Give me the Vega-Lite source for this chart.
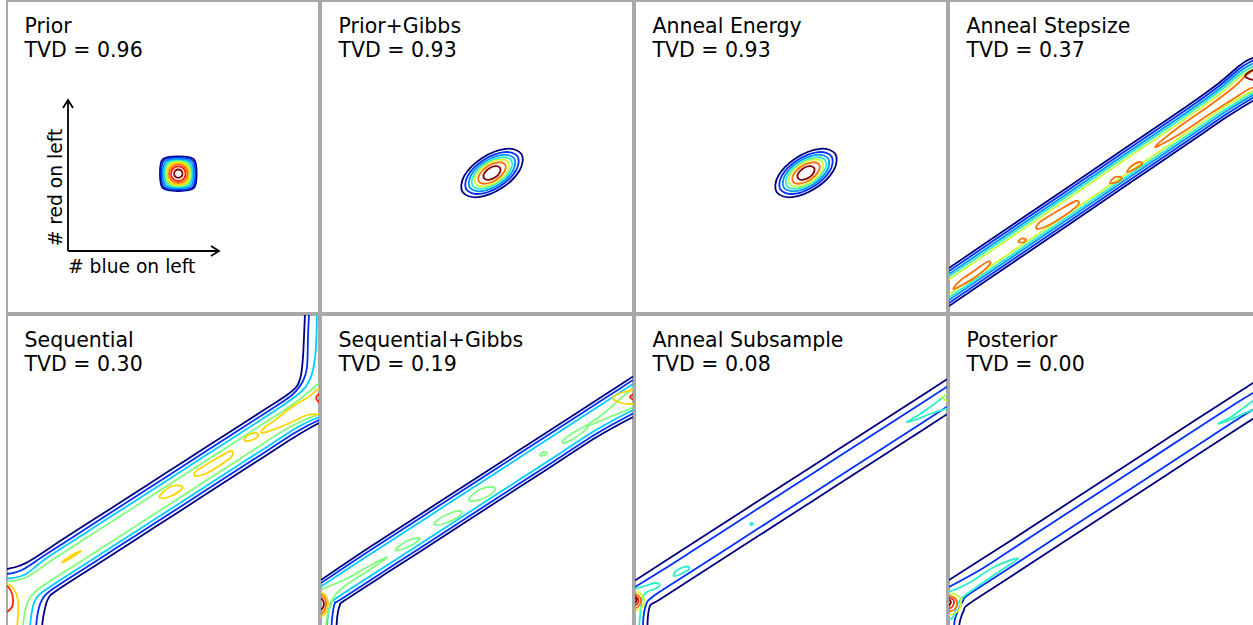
{
"$schema": "https://vega.github.io/schema/vega-lite/v6.json",
"padding": {"left": 6, "top": 0, "right": 0, "bottom": 0},
"background": "white",
"config": {"view": {"stroke": "#a8a8a8", "strokeWidth": 2}, "font": "DejaVu Sans"},
"data": {"values": [
{"p":0,"r":0,"t":"Prior","x":17.5,"y":280.5},{"p":0,"r":0,"t":"TVD = 0.96","x":17.5,"y":256},
{"p":1,"r":0,"t":"Prior+Gibbs","x":17.5,"y":280.5},{"p":1,"r":0,"t":"TVD = 0.93","x":17.5,"y":256},
{"p":2,"r":0,"t":"Anneal Energy","x":17.5,"y":280.5},{"p":2,"r":0,"t":"TVD = 0.93","x":17.5,"y":256},
{"p":3,"r":0,"t":"Anneal Stepsize","x":17.5,"y":280.5},{"p":3,"r":0,"t":"TVD = 0.37","x":17.5,"y":256},
{"p":4,"r":0,"t":"Sequential","x":17.5,"y":280.5},{"p":4,"r":0,"t":"TVD = 0.30","x":17.5,"y":256},
{"p":5,"r":0,"t":"Sequential+Gibbs","x":17.5,"y":280.5},{"p":5,"r":0,"t":"TVD = 0.19","x":17.5,"y":256},
{"p":6,"r":0,"t":"Anneal Subsample","x":17.5,"y":280.5},{"p":6,"r":0,"t":"TVD = 0.08","x":17.5,"y":256},
{"p":7,"r":0,"t":"Posterior","x":17.5,"y":280.5},{"p":7,"r":0,"t":"TVD = 0.00","x":17.5,"y":256},
{"p":0,"r":1,"t":"# blue on left","x":124.7,"y":40},
{"p":0,"r":2,"t":"# red on left","x":54.7,"y":125.5},

{"p":0,"c":50,"l":11,"x":61,"y":62},{"p":0,"c":50,"l":11,"x":61,"y":213},
{"p":0,"c":51,"l":11,"x":61,"y":62},{"p":0,"c":51,"l":11,"x":212,"y":62},
{"p":0,"c":52,"l":11,"x":56,"y":205},{"p":0,"c":52,"l":11,"x":61,"y":213},{"p":0,"c":52,"l":11,"x":66,"y":205},
{"p":0,"c":53,"l":11,"x":204,"y":67},{"p":0,"c":53,"l":11,"x":212,"y":62},{"p":0,"c":53,"l":11,"x":204,"y":57},

{"p":0,"c":100,"l":0,"x":189.6,"y":139.3},{"p":0,"c":100,"l":0,"x":186.7,"y":153.8},{"p":0,"c":100,"l":0,"x":171.3,"y":156.6},{"p":0,"c":100,"l":0,"x":155.9,"y":153.8},{"p":0,"c":100,"l":0,"x":153,"y":139.3},{"p":0,"c":100,"l":0,"x":155.9,"y":124.8},{"p":0,"c":100,"l":0,"x":171.3,"y":122},{"p":0,"c":100,"l":0,"x":186.7,"y":124.8},
{"p":0,"c":101,"l":1,"x":188.3,"y":139.3},{"p":0,"c":101,"l":1,"x":185.6,"y":152.7},{"p":0,"c":101,"l":1,"x":171.3,"y":155.3},{"p":0,"c":101,"l":1,"x":157,"y":152.7},{"p":0,"c":101,"l":1,"x":154.3,"y":139.3},{"p":0,"c":101,"l":1,"x":157,"y":125.9},{"p":0,"c":101,"l":1,"x":171.3,"y":123.3},{"p":0,"c":101,"l":1,"x":185.6,"y":125.9},
{"p":0,"c":102,"l":2,"x":186.8,"y":139.3},{"p":0,"c":102,"l":2,"x":184,"y":151.4},{"p":0,"c":102,"l":2,"x":171.3,"y":154},{"p":0,"c":102,"l":2,"x":158.6,"y":151.4},{"p":0,"c":102,"l":2,"x":155.8,"y":139.3},{"p":0,"c":102,"l":2,"x":158.6,"y":127.2},{"p":0,"c":102,"l":2,"x":171.3,"y":124.6},{"p":0,"c":102,"l":2,"x":184,"y":127.2},
{"p":0,"c":103,"l":3,"x":185.3,"y":139.3},{"p":0,"c":103,"l":3,"x":182.5,"y":149.9},{"p":0,"c":103,"l":3,"x":171.3,"y":152.6},{"p":0,"c":103,"l":3,"x":160.1,"y":149.9},{"p":0,"c":103,"l":3,"x":157.3,"y":139.3},{"p":0,"c":103,"l":3,"x":160.1,"y":128.7},{"p":0,"c":103,"l":3,"x":171.3,"y":126},{"p":0,"c":103,"l":3,"x":182.5,"y":128.7},
{"p":0,"c":109,"l":4,"x":184.4,"y":139.3},{"p":0,"c":109,"l":4,"x":181.6,"y":149.4},{"p":0,"c":109,"l":4,"x":171.3,"y":152.1},{"p":0,"c":109,"l":4,"x":161,"y":149.4},{"p":0,"c":109,"l":4,"x":158.2,"y":139.3},{"p":0,"c":109,"l":4,"x":161,"y":129.2},{"p":0,"c":109,"l":4,"x":171.3,"y":126.5},{"p":0,"c":109,"l":4,"x":181.6,"y":129.2},
{"p":0,"c":104,"l":5,"x":183.6,"y":139.3},{"p":0,"c":104,"l":5,"x":180.9,"y":148.9},{"p":0,"c":104,"l":5,"x":171.3,"y":151.6},{"p":0,"c":104,"l":5,"x":161.7,"y":148.9},{"p":0,"c":104,"l":5,"x":159,"y":139.3},{"p":0,"c":104,"l":5,"x":161.7,"y":129.7},{"p":0,"c":104,"l":5,"x":171.3,"y":127},{"p":0,"c":104,"l":5,"x":180.9,"y":129.7},
{"p":0,"c":110,"l":6,"x":182.9,"y":139.3},{"p":0,"c":110,"l":6,"x":180.2,"y":148.2},{"p":0,"c":110,"l":6,"x":171.3,"y":150.9},{"p":0,"c":110,"l":6,"x":162.4,"y":148.2},{"p":0,"c":110,"l":6,"x":159.7,"y":139.3},{"p":0,"c":110,"l":6,"x":162.4,"y":130.4},{"p":0,"c":110,"l":6,"x":171.3,"y":127.7},{"p":0,"c":110,"l":6,"x":180.2,"y":130.4},
{"p":0,"c":105,"l":7,"x":182.1,"y":139.3},{"p":0,"c":105,"l":7,"x":179.4,"y":147.4},{"p":0,"c":105,"l":7,"x":171.3,"y":150.1},{"p":0,"c":105,"l":7,"x":163.2,"y":147.4},{"p":0,"c":105,"l":7,"x":160.5,"y":139.3},{"p":0,"c":105,"l":7,"x":163.2,"y":131.2},{"p":0,"c":105,"l":7,"x":171.3,"y":128.5},{"p":0,"c":105,"l":7,"x":179.4,"y":131.2},
{"p":0,"c":106,"l":8,"x":180.6,"y":139.3},{"p":0,"c":106,"l":8,"x":178,"y":146},{"p":0,"c":106,"l":8,"x":171.3,"y":148.6},{"p":0,"c":106,"l":8,"x":164.6,"y":146},{"p":0,"c":106,"l":8,"x":162,"y":139.3},{"p":0,"c":106,"l":8,"x":164.6,"y":132.6},{"p":0,"c":106,"l":8,"x":171.3,"y":130},{"p":0,"c":106,"l":8,"x":178,"y":132.6},
{"p":0,"c":107,"l":9,"x":178.6,"y":139.3},{"p":0,"c":107,"l":9,"x":176.5,"y":144.5},{"p":0,"c":107,"l":9,"x":171.3,"y":146.6},{"p":0,"c":107,"l":9,"x":166.1,"y":144.5},{"p":0,"c":107,"l":9,"x":164,"y":139.3},{"p":0,"c":107,"l":9,"x":166.1,"y":134.1},{"p":0,"c":107,"l":9,"x":171.3,"y":132},{"p":0,"c":107,"l":9,"x":176.5,"y":134.1},
{"p":0,"c":108,"l":10,"x":175.5,"y":139.3},{"p":0,"c":108,"l":10,"x":174.3,"y":142.3},{"p":0,"c":108,"l":10,"x":171.3,"y":143.5},{"p":0,"c":108,"l":10,"x":168.3,"y":142.3},{"p":0,"c":108,"l":10,"x":167.1,"y":139.3},{"p":0,"c":108,"l":10,"x":168.3,"y":136.3},{"p":0,"c":108,"l":10,"x":171.3,"y":135.1},{"p":0,"c":108,"l":10,"x":174.3,"y":136.3},

{"p":1,"c":100,"l":0,"x":200.4,"y":159.1},{"p":1,"c":100,"l":0,"x":184.9,"y":164.2},{"p":1,"c":100,"l":0,"x":161.2,"y":155.1},{"p":1,"c":100,"l":0,"x":143.3,"y":137.2},{"p":1,"c":100,"l":0,"x":141.6,"y":120.9},{"p":1,"c":100,"l":0,"x":157.1,"y":115.8},{"p":1,"c":100,"l":0,"x":180.8,"y":124.9},{"p":1,"c":100,"l":0,"x":198.7,"y":142.8},
{"p":1,"c":101,"l":1,"x":196.6,"y":156.6},{"p":1,"c":101,"l":1,"x":183.2,"y":160.9},{"p":1,"c":101,"l":1,"x":162.6,"y":153},{"p":1,"c":101,"l":1,"x":147,"y":137.5},{"p":1,"c":101,"l":1,"x":145.4,"y":123.4},{"p":1,"c":101,"l":1,"x":158.8,"y":119.1},{"p":1,"c":101,"l":1,"x":179.4,"y":127},{"p":1,"c":101,"l":1,"x":195,"y":142.5},
{"p":1,"c":102,"l":2,"x":193.2,"y":154.4},{"p":1,"c":102,"l":2,"x":181.5,"y":158.2},{"p":1,"c":102,"l":2,"x":163.6,"y":151.3},{"p":1,"c":102,"l":2,"x":150.1,"y":137.8},{"p":1,"c":102,"l":2,"x":148.8,"y":125.6},{"p":1,"c":102,"l":2,"x":160.5,"y":121.8},{"p":1,"c":102,"l":2,"x":178.4,"y":128.7},{"p":1,"c":102,"l":2,"x":191.9,"y":142.2},
{"p":1,"c":103,"l":4,"x":190.3,"y":152.5},{"p":1,"c":103,"l":4,"x":180.2,"y":155.6},{"p":1,"c":103,"l":4,"x":164.7,"y":149.6},{"p":1,"c":103,"l":4,"x":152.9,"y":137.9},{"p":1,"c":103,"l":4,"x":151.7,"y":127.5},{"p":1,"c":103,"l":4,"x":161.8,"y":124.4},{"p":1,"c":103,"l":4,"x":177.3,"y":130.4},{"p":1,"c":103,"l":4,"x":189.1,"y":142.1},
{"p":1,"c":104,"l":6,"x":187.4,"y":150.6},{"p":1,"c":104,"l":6,"x":178.7,"y":153.4},{"p":1,"c":104,"l":6,"x":165.5,"y":148.4},{"p":1,"c":104,"l":6,"x":155.5,"y":138.4},{"p":1,"c":104,"l":6,"x":154.6,"y":129.4},{"p":1,"c":104,"l":6,"x":163.3,"y":126.6},{"p":1,"c":104,"l":6,"x":176.5,"y":131.6},{"p":1,"c":104,"l":6,"x":186.5,"y":141.6},
{"p":1,"c":105,"l":8,"x":184,"y":148.4},{"p":1,"c":105,"l":8,"x":177.1,"y":150.7},{"p":1,"c":105,"l":8,"x":166.6,"y":146.7},{"p":1,"c":105,"l":8,"x":158.7,"y":138.8},{"p":1,"c":105,"l":8,"x":158,"y":131.6},{"p":1,"c":105,"l":8,"x":164.9,"y":129.3},{"p":1,"c":105,"l":8,"x":175.4,"y":133.3},{"p":1,"c":105,"l":8,"x":183.3,"y":141.2},
{"p":1,"c":106,"l":10,"x":179,"y":145.2},{"p":1,"c":106,"l":10,"x":174.5,"y":146.9},{"p":1,"c":106,"l":10,"x":168,"y":144.6},{"p":1,"c":106,"l":10,"x":163.2,"y":139.6},{"p":1,"c":106,"l":10,"x":163,"y":134.8},{"p":1,"c":106,"l":10,"x":167.5,"y":133.1},{"p":1,"c":106,"l":10,"x":174,"y":135.4},{"p":1,"c":106,"l":10,"x":178.8,"y":140.4},

{"p":2,"c":100,"l":0,"x":200.4,"y":159.1},{"p":2,"c":100,"l":0,"x":184.9,"y":164.2},{"p":2,"c":100,"l":0,"x":161.2,"y":155.1},{"p":2,"c":100,"l":0,"x":143.3,"y":137.2},{"p":2,"c":100,"l":0,"x":141.6,"y":120.9},{"p":2,"c":100,"l":0,"x":157.1,"y":115.8},{"p":2,"c":100,"l":0,"x":180.8,"y":124.9},{"p":2,"c":100,"l":0,"x":198.7,"y":142.8},
{"p":2,"c":101,"l":1,"x":196.6,"y":156.6},{"p":2,"c":101,"l":1,"x":183.2,"y":160.9},{"p":2,"c":101,"l":1,"x":162.6,"y":153},{"p":2,"c":101,"l":1,"x":147,"y":137.5},{"p":2,"c":101,"l":1,"x":145.4,"y":123.4},{"p":2,"c":101,"l":1,"x":158.8,"y":119.1},{"p":2,"c":101,"l":1,"x":179.4,"y":127},{"p":2,"c":101,"l":1,"x":195,"y":142.5},
{"p":2,"c":102,"l":2,"x":193.2,"y":154.4},{"p":2,"c":102,"l":2,"x":181.5,"y":158.2},{"p":2,"c":102,"l":2,"x":163.6,"y":151.3},{"p":2,"c":102,"l":2,"x":150.1,"y":137.8},{"p":2,"c":102,"l":2,"x":148.8,"y":125.6},{"p":2,"c":102,"l":2,"x":160.5,"y":121.8},{"p":2,"c":102,"l":2,"x":178.4,"y":128.7},{"p":2,"c":102,"l":2,"x":191.9,"y":142.2},
{"p":2,"c":103,"l":4,"x":190.3,"y":152.5},{"p":2,"c":103,"l":4,"x":180.2,"y":155.6},{"p":2,"c":103,"l":4,"x":164.7,"y":149.6},{"p":2,"c":103,"l":4,"x":152.9,"y":137.9},{"p":2,"c":103,"l":4,"x":151.7,"y":127.5},{"p":2,"c":103,"l":4,"x":161.8,"y":124.4},{"p":2,"c":103,"l":4,"x":177.3,"y":130.4},{"p":2,"c":103,"l":4,"x":189.1,"y":142.1},
{"p":2,"c":104,"l":6,"x":187.4,"y":150.6},{"p":2,"c":104,"l":6,"x":178.7,"y":153.4},{"p":2,"c":104,"l":6,"x":165.5,"y":148.4},{"p":2,"c":104,"l":6,"x":155.5,"y":138.4},{"p":2,"c":104,"l":6,"x":154.6,"y":129.4},{"p":2,"c":104,"l":6,"x":163.3,"y":126.6},{"p":2,"c":104,"l":6,"x":176.5,"y":131.6},{"p":2,"c":104,"l":6,"x":186.5,"y":141.6},
{"p":2,"c":105,"l":8,"x":184,"y":148.4},{"p":2,"c":105,"l":8,"x":177.1,"y":150.7},{"p":2,"c":105,"l":8,"x":166.6,"y":146.7},{"p":2,"c":105,"l":8,"x":158.7,"y":138.8},{"p":2,"c":105,"l":8,"x":158,"y":131.6},{"p":2,"c":105,"l":8,"x":164.9,"y":129.3},{"p":2,"c":105,"l":8,"x":175.4,"y":133.3},{"p":2,"c":105,"l":8,"x":183.3,"y":141.2},
{"p":2,"c":106,"l":10,"x":179,"y":145.2},{"p":2,"c":106,"l":10,"x":174.5,"y":146.9},{"p":2,"c":106,"l":10,"x":168,"y":144.6},{"p":2,"c":106,"l":10,"x":163.2,"y":139.6},{"p":2,"c":106,"l":10,"x":163,"y":134.8},{"p":2,"c":106,"l":10,"x":167.5,"y":133.1},{"p":2,"c":106,"l":10,"x":174,"y":135.4},{"p":2,"c":106,"l":10,"x":178.8,"y":140.4},

{"p":3,"c":0,"l":0,"x":0,"y":45},{"p":3,"c":0,"l":0,"x":60,"y":85.8},{"p":3,"c":0,"l":0,"x":120,"y":126.6},{"p":3,"c":0,"l":0,"x":180,"y":167.4},{"p":3,"c":0,"l":0,"x":240,"y":208.2},{"p":3,"c":0,"l":0,"x":270,"y":230},{"p":3,"c":0,"l":0,"x":290,"y":247},{"p":3,"c":0,"l":0,"x":300,"y":253.5},{"p":3,"c":0,"l":0,"x":312,"y":257},
{"p":3,"c":1,"l":1,"x":0,"y":42},{"p":3,"c":1,"l":1,"x":60,"y":82.8},{"p":3,"c":1,"l":1,"x":120,"y":123.6},{"p":3,"c":1,"l":1,"x":180,"y":164.4},{"p":3,"c":1,"l":1,"x":240,"y":205.2},{"p":3,"c":1,"l":1,"x":270,"y":227},{"p":3,"c":1,"l":1,"x":290,"y":244},{"p":3,"c":1,"l":1,"x":300,"y":250.5},{"p":3,"c":1,"l":1,"x":312,"y":255},
{"p":3,"c":2,"l":2,"x":0,"y":39},{"p":3,"c":2,"l":2,"x":60,"y":79.8},{"p":3,"c":2,"l":2,"x":120,"y":120.6},{"p":3,"c":2,"l":2,"x":180,"y":161.4},{"p":3,"c":2,"l":2,"x":240,"y":202.2},{"p":3,"c":2,"l":2,"x":270,"y":224},{"p":3,"c":2,"l":2,"x":290,"y":241},{"p":3,"c":2,"l":2,"x":300,"y":247.5},{"p":3,"c":2,"l":2,"x":312,"y":252.5},
{"p":3,"c":3,"l":4,"x":0,"y":36.5},{"p":3,"c":3,"l":4,"x":60,"y":77.3},{"p":3,"c":3,"l":4,"x":120,"y":118.1},{"p":3,"c":3,"l":4,"x":180,"y":158.9},{"p":3,"c":3,"l":4,"x":240,"y":199.7},{"p":3,"c":3,"l":4,"x":270,"y":221.5},{"p":3,"c":3,"l":4,"x":290,"y":238},{"p":3,"c":3,"l":4,"x":300,"y":244.5},{"p":3,"c":3,"l":4,"x":312,"y":250},
{"p":3,"c":4,"l":6,"x":0,"y":33.5},{"p":3,"c":4,"l":6,"x":60,"y":74.3},{"p":3,"c":4,"l":6,"x":120,"y":115.1},{"p":3,"c":4,"l":6,"x":180,"y":155.9},{"p":3,"c":4,"l":6,"x":240,"y":196.7},{"p":3,"c":4,"l":6,"x":270,"y":218.5},{"p":3,"c":4,"l":6,"x":290,"y":235},{"p":3,"c":4,"l":6,"x":300,"y":242},{"p":3,"c":4,"l":6,"x":312,"y":247.5},
{"p":3,"c":5,"l":0,"x":0,"y":7},{"p":3,"c":5,"l":0,"x":60,"y":47.8},{"p":3,"c":5,"l":0,"x":120,"y":88.6},{"p":3,"c":5,"l":0,"x":180,"y":129.4},{"p":3,"c":5,"l":0,"x":240,"y":170.2},{"p":3,"c":5,"l":0,"x":280,"y":197.4},{"p":3,"c":5,"l":0,"x":312,"y":217},
{"p":3,"c":6,"l":1,"x":0,"y":10},{"p":3,"c":6,"l":1,"x":60,"y":50.8},{"p":3,"c":6,"l":1,"x":120,"y":91.6},{"p":3,"c":6,"l":1,"x":180,"y":132.4},{"p":3,"c":6,"l":1,"x":240,"y":173.2},{"p":3,"c":6,"l":1,"x":280,"y":200.4},{"p":3,"c":6,"l":1,"x":312,"y":220},
{"p":3,"c":7,"l":2,"x":0,"y":13},{"p":3,"c":7,"l":2,"x":60,"y":53.8},{"p":3,"c":7,"l":2,"x":120,"y":94.6},{"p":3,"c":7,"l":2,"x":180,"y":135.4},{"p":3,"c":7,"l":2,"x":240,"y":176.2},{"p":3,"c":7,"l":2,"x":280,"y":203.4},{"p":3,"c":7,"l":2,"x":312,"y":222.5},
{"p":3,"c":8,"l":4,"x":0,"y":15.5},{"p":3,"c":8,"l":4,"x":60,"y":56.3},{"p":3,"c":8,"l":4,"x":120,"y":97.1},{"p":3,"c":8,"l":4,"x":180,"y":137.9},{"p":3,"c":8,"l":4,"x":240,"y":178.7},{"p":3,"c":8,"l":4,"x":280,"y":205.9},{"p":3,"c":8,"l":4,"x":312,"y":224.5},
{"p":3,"c":9,"l":6,"x":0,"y":18.5},{"p":3,"c":9,"l":6,"x":60,"y":59.3},{"p":3,"c":9,"l":6,"x":120,"y":100.1},{"p":3,"c":9,"l":6,"x":180,"y":140.9},{"p":3,"c":9,"l":6,"x":240,"y":181.7},{"p":3,"c":9,"l":6,"x":280,"y":208.9},{"p":3,"c":9,"l":6,"x":312,"y":226.5},
{"p":3,"c":100,"l":8,"x":5,"y":24},{"p":3,"c":100,"l":8,"x":15,"y":29},{"p":3,"c":100,"l":8,"x":28,"y":37},{"p":3,"c":100,"l":8,"x":41,"y":49},{"p":3,"c":100,"l":8,"x":38,"y":51},{"p":3,"c":100,"l":8,"x":25,"y":42},{"p":3,"c":100,"l":8,"x":12,"y":33},{"p":3,"c":100,"l":8,"x":6,"y":27},
{"p":3,"c":101,"l":8,"x":69.5,"y":71},{"p":3,"c":101,"l":8,"x":74,"y":70.5},{"p":3,"c":101,"l":8,"x":77,"y":73.5},{"p":3,"c":101,"l":8,"x":72.5,"y":74.5},
{"p":3,"c":102,"l":8,"x":88,"y":84},{"p":3,"c":102,"l":8,"x":100,"y":88},{"p":3,"c":102,"l":8,"x":115,"y":97},{"p":3,"c":102,"l":8,"x":129,"y":108},{"p":3,"c":102,"l":8,"x":127,"y":112},{"p":3,"c":102,"l":8,"x":112,"y":104},{"p":3,"c":102,"l":8,"x":97,"y":95},{"p":3,"c":102,"l":8,"x":89,"y":89},
{"p":3,"c":103,"l":8,"x":161,"y":130},{"p":3,"c":103,"l":8,"x":168,"y":131},{"p":3,"c":103,"l":8,"x":173,"y":135},{"p":3,"c":103,"l":8,"x":166,"y":136},
{"p":3,"c":104,"l":8,"x":178,"y":141},{"p":3,"c":104,"l":8,"x":185,"y":143.5},{"p":3,"c":104,"l":8,"x":193,"y":149},{"p":3,"c":104,"l":8,"x":190,"y":151},{"p":3,"c":104,"l":8,"x":182,"y":146.5},
{"p":3,"c":105,"l":8,"x":206,"y":166},{"p":3,"c":105,"l":8,"x":230,"y":178.5},{"p":3,"c":105,"l":8,"x":260,"y":198.5},{"p":3,"c":105,"l":8,"x":285,"y":214.5},{"p":3,"c":105,"l":8,"x":300,"y":224},{"p":3,"c":105,"l":8,"x":314,"y":229},{"p":3,"c":105,"l":8,"x":314,"y":245},{"p":3,"c":105,"l":8,"x":300,"y":240},{"p":3,"c":105,"l":8,"x":285,"y":226},{"p":3,"c":105,"l":8,"x":260,"y":207},{"p":3,"c":105,"l":8,"x":230,"y":186},
{"p":3,"c":106,"l":10,"x":296,"y":237},{"p":3,"c":106,"l":10,"x":304,"y":243},{"p":3,"c":106,"l":10,"x":314,"y":244},{"p":3,"c":106,"l":10,"x":314,"y":232},{"p":3,"c":106,"l":10,"x":304,"y":233},

{"p":4,"c":0,"l":0,"x":0,"y":58},{"p":4,"c":0,"l":0,"x":12,"y":61},{"p":4,"c":0,"l":0,"x":25,"y":67.5},{"p":4,"c":0,"l":0,"x":60,"y":90.5},{"p":4,"c":0,"l":0,"x":100,"y":116},{"p":4,"c":0,"l":0,"x":140,"y":141.8},{"p":4,"c":0,"l":0,"x":180,"y":167.5},{"p":4,"c":0,"l":0,"x":220,"y":193.3},{"p":4,"c":0,"l":0,"x":260,"y":219},{"p":4,"c":0,"l":0,"x":280,"y":232},{"p":4,"c":0,"l":0,"x":290,"y":241},{"p":4,"c":0,"l":0,"x":294,"y":252},{"p":4,"c":0,"l":0,"x":296,"y":270},{"p":4,"c":0,"l":0,"x":297,"y":290},{"p":4,"c":0,"l":0,"x":298,"y":314},
{"p":4,"c":1,"l":1,"x":0,"y":53},{"p":4,"c":1,"l":1,"x":15,"y":57},{"p":4,"c":1,"l":1,"x":35,"y":70},{"p":4,"c":1,"l":1,"x":60,"y":86.1},{"p":4,"c":1,"l":1,"x":100,"y":111.9},{"p":4,"c":1,"l":1,"x":140,"y":137.7},{"p":4,"c":1,"l":1,"x":180,"y":163.5},{"p":4,"c":1,"l":1,"x":220,"y":189.3},{"p":4,"c":1,"l":1,"x":260,"y":215.1},{"p":4,"c":1,"l":1,"x":285,"y":232},{"p":4,"c":1,"l":1,"x":296,"y":246},{"p":4,"c":1,"l":1,"x":300,"y":260},{"p":4,"c":1,"l":1,"x":301,"y":290},{"p":4,"c":1,"l":1,"x":302,"y":314},
{"p":4,"c":2,"l":3,"x":0,"y":48.5},{"p":4,"c":2,"l":3,"x":18,"y":52.5},{"p":4,"c":2,"l":3,"x":40,"y":69.2},{"p":4,"c":2,"l":3,"x":80,"y":95},{"p":4,"c":2,"l":3,"x":120,"y":120.8},{"p":4,"c":2,"l":3,"x":160,"y":146.6},{"p":4,"c":2,"l":3,"x":200,"y":172.4},{"p":4,"c":2,"l":3,"x":240,"y":198.2},{"p":4,"c":2,"l":3,"x":275,"y":221},{"p":4,"c":2,"l":3,"x":295,"y":236},{"p":4,"c":2,"l":3,"x":303,"y":248},{"p":4,"c":2,"l":3,"x":307,"y":262},{"p":4,"c":2,"l":3,"x":309,"y":280},{"p":4,"c":2,"l":3,"x":310,"y":314},
{"p":4,"c":3,"l":5,"x":0,"y":45.5},{"p":4,"c":3,"l":5,"x":20,"y":50},{"p":4,"c":3,"l":5,"x":45,"y":66.9},{"p":4,"c":3,"l":5,"x":80,"y":89.5},{"p":4,"c":3,"l":5,"x":120,"y":115.3},{"p":4,"c":3,"l":5,"x":160,"y":141.1},{"p":4,"c":3,"l":5,"x":200,"y":166.9},{"p":4,"c":3,"l":5,"x":240,"y":192.7},{"p":4,"c":3,"l":5,"x":270,"y":212},{"p":4,"c":3,"l":5,"x":285,"y":222},{"p":4,"c":3,"l":5,"x":298,"y":232},{"p":4,"c":3,"l":5,"x":312,"y":244},
{"p":4,"c":4,"l":0,"x":35,"y":0},{"p":4,"c":4,"l":0,"x":37,"y":14},{"p":4,"c":4,"l":0,"x":41,"y":28},{"p":4,"c":4,"l":0,"x":50,"y":36.7},{"p":4,"c":4,"l":0,"x":90,"y":62.5},{"p":4,"c":4,"l":0,"x":130,"y":88.3},{"p":4,"c":4,"l":0,"x":170,"y":114},{"p":4,"c":4,"l":0,"x":210,"y":139.9},{"p":4,"c":4,"l":0,"x":250,"y":165.7},{"p":4,"c":4,"l":0,"x":290,"y":191.5},{"p":4,"c":4,"l":0,"x":312,"y":204},
{"p":4,"c":5,"l":1,"x":29,"y":0},{"p":4,"c":5,"l":1,"x":31,"y":15},{"p":4,"c":5,"l":1,"x":35,"y":27},{"p":4,"c":5,"l":1,"x":45,"y":37.4},{"p":4,"c":5,"l":1,"x":90,"y":66.5},{"p":4,"c":5,"l":1,"x":130,"y":92.3},{"p":4,"c":5,"l":1,"x":170,"y":118},{"p":4,"c":5,"l":1,"x":210,"y":143.9},{"p":4,"c":5,"l":1,"x":250,"y":169.7},{"p":4,"c":5,"l":1,"x":290,"y":195.5},{"p":4,"c":5,"l":1,"x":312,"y":207},
{"p":4,"c":6,"l":3,"x":23,"y":0},{"p":4,"c":6,"l":3,"x":25,"y":16},{"p":4,"c":6,"l":3,"x":29,"y":28},{"p":4,"c":6,"l":3,"x":40,"y":38.2},{"p":4,"c":6,"l":3,"x":90,"y":70.5},{"p":4,"c":6,"l":3,"x":130,"y":96.3},{"p":4,"c":6,"l":3,"x":170,"y":122},{"p":4,"c":6,"l":3,"x":210,"y":147.9},{"p":4,"c":6,"l":3,"x":250,"y":173.7},{"p":4,"c":6,"l":3,"x":290,"y":199.5},{"p":4,"c":6,"l":3,"x":312,"y":210},
{"p":4,"c":7,"l":5,"x":16,"y":0},{"p":4,"c":7,"l":5,"x":18,"y":16},{"p":4,"c":7,"l":5,"x":23,"y":29},{"p":4,"c":7,"l":5,"x":35,"y":40.5},{"p":4,"c":7,"l":5,"x":80,"y":69.5},{"p":4,"c":7,"l":5,"x":120,"y":95.3},{"p":4,"c":7,"l":5,"x":160,"y":121.1},{"p":4,"c":7,"l":5,"x":200,"y":146.9},{"p":4,"c":7,"l":5,"x":240,"y":172.7},{"p":4,"c":7,"l":5,"x":280,"y":198.5},{"p":4,"c":7,"l":5,"x":312,"y":213},
{"p":4,"c":8,"l":7,"x":0,"y":43.5},{"p":4,"c":8,"l":7,"x":7,"y":38},{"p":4,"c":8,"l":7,"x":11,"y":27},{"p":4,"c":8,"l":7,"x":11,"y":12},{"p":4,"c":8,"l":7,"x":10,"y":0},
{"p":4,"c":9,"l":9,"x":0,"y":41.5},{"p":4,"c":9,"l":9,"x":4,"y":36},{"p":4,"c":9,"l":9,"x":6,"y":28},{"p":4,"c":9,"l":9,"x":5,"y":20},{"p":4,"c":9,"l":9,"x":0,"y":15},
{"p":4,"c":100,"l":7,"x":55,"y":64.5},{"p":4,"c":100,"l":7,"x":64,"y":69},{"p":4,"c":100,"l":7,"x":74,"y":76},{"p":4,"c":100,"l":7,"x":65,"y":72},
{"p":4,"c":101,"l":7,"x":153,"y":129},{"p":4,"c":101,"l":7,"x":163,"y":130.5},{"p":4,"c":101,"l":7,"x":174,"y":137},{"p":4,"c":101,"l":7,"x":175,"y":141},{"p":4,"c":101,"l":7,"x":165,"y":141},{"p":4,"c":101,"l":7,"x":155,"y":134},
{"p":4,"c":102,"l":7,"x":188,"y":151},{"p":4,"c":102,"l":7,"x":200,"y":154},{"p":4,"c":102,"l":7,"x":215,"y":163},{"p":4,"c":102,"l":7,"x":225,"y":171},{"p":4,"c":102,"l":7,"x":224,"y":176},{"p":4,"c":102,"l":7,"x":212,"y":170},{"p":4,"c":102,"l":7,"x":197,"y":161},{"p":4,"c":102,"l":7,"x":189,"y":156},
{"p":4,"c":103,"l":7,"x":238,"y":186},{"p":4,"c":103,"l":7,"x":245,"y":187},{"p":4,"c":103,"l":7,"x":251,"y":191},{"p":4,"c":103,"l":7,"x":249,"y":194},{"p":4,"c":103,"l":7,"x":242,"y":192.5},{"p":4,"c":103,"l":7,"x":238,"y":189},
{"p":4,"c":104,"l":7,"x":255,"y":194},{"p":4,"c":104,"l":7,"x":268,"y":198},{"p":4,"c":104,"l":7,"x":285,"y":205},{"p":4,"c":104,"l":7,"x":300,"y":212},{"p":4,"c":104,"l":7,"x":314,"y":215},{"p":4,"c":104,"l":7,"x":314,"y":238},{"p":4,"c":104,"l":7,"x":300,"y":229},{"p":4,"c":104,"l":7,"x":285,"y":220},{"p":4,"c":104,"l":7,"x":268,"y":207},{"p":4,"c":104,"l":7,"x":257,"y":199},
{"p":4,"c":105,"l":9,"x":314,"y":224},{"p":4,"c":105,"l":9,"x":309,"y":229},{"p":4,"c":105,"l":9,"x":314,"y":234},

{"p":5,"c":0,"l":0,"x":0,"y":47},{"p":5,"c":0,"l":0,"x":50,"y":80.7},{"p":5,"c":0,"l":0,"x":100,"y":113.1},{"p":5,"c":0,"l":0,"x":150,"y":145.5},{"p":5,"c":0,"l":0,"x":200,"y":177.9},{"p":5,"c":0,"l":0,"x":250,"y":210.3},{"p":5,"c":0,"l":0,"x":290,"y":236.2},{"p":5,"c":0,"l":0,"x":312,"y":250.5},
{"p":5,"c":1,"l":1,"x":0,"y":44},{"p":5,"c":1,"l":1,"x":50,"y":77.2},{"p":5,"c":1,"l":1,"x":100,"y":109.6},{"p":5,"c":1,"l":1,"x":150,"y":142},{"p":5,"c":1,"l":1,"x":200,"y":174.4},{"p":5,"c":1,"l":1,"x":250,"y":206.8},{"p":5,"c":1,"l":1,"x":290,"y":232.7},{"p":5,"c":1,"l":1,"x":312,"y":247},
{"p":5,"c":2,"l":3,"x":0,"y":40.5},{"p":5,"c":2,"l":3,"x":50,"y":73.2},{"p":5,"c":2,"l":3,"x":100,"y":105.6},{"p":5,"c":2,"l":3,"x":150,"y":138},{"p":5,"c":2,"l":3,"x":200,"y":170.4},{"p":5,"c":2,"l":3,"x":250,"y":202.8},{"p":5,"c":2,"l":3,"x":290,"y":228.7},{"p":5,"c":2,"l":3,"x":312,"y":243},
{"p":5,"c":3,"l":0,"x":15.5,"y":0},{"p":5,"c":3,"l":0,"x":16.5,"y":12},{"p":5,"c":3,"l":0,"x":19,"y":22},{"p":5,"c":3,"l":0,"x":25,"y":27.5},{"p":5,"c":3,"l":0,"x":75,"y":59.9},{"p":5,"c":3,"l":0,"x":125,"y":92.3},{"p":5,"c":3,"l":0,"x":175,"y":124.7},{"p":5,"c":3,"l":0,"x":225,"y":157.1},{"p":5,"c":3,"l":0,"x":275,"y":189.5},{"p":5,"c":3,"l":0,"x":312,"y":210},
{"p":5,"c":4,"l":1,"x":10.5,"y":0},{"p":5,"c":4,"l":1,"x":11.5,"y":12},{"p":5,"c":4,"l":1,"x":14,"y":24},{"p":5,"c":4,"l":1,"x":20,"y":27.8},{"p":5,"c":4,"l":1,"x":75,"y":63.4},{"p":5,"c":4,"l":1,"x":125,"y":95.8},{"p":5,"c":4,"l":1,"x":175,"y":128.2},{"p":5,"c":4,"l":1,"x":225,"y":160.6},{"p":5,"c":4,"l":1,"x":275,"y":193},{"p":5,"c":4,"l":1,"x":312,"y":213.5},
{"p":5,"c":5,"l":3,"x":6,"y":0},{"p":5,"c":5,"l":3,"x":7,"y":12},{"p":5,"c":5,"l":3,"x":9.5,"y":22},{"p":5,"c":5,"l":3,"x":16,"y":29.2},{"p":5,"c":5,"l":3,"x":75,"y":67.4},{"p":5,"c":5,"l":3,"x":125,"y":99.8},{"p":5,"c":5,"l":3,"x":175,"y":132.2},{"p":5,"c":5,"l":3,"x":225,"y":164.6},{"p":5,"c":5,"l":3,"x":275,"y":197},{"p":5,"c":5,"l":3,"x":312,"y":217},
{"p":5,"c":6,"l":5,"x":0,"y":37.5},{"p":5,"c":6,"l":5,"x":25,"y":48},{"p":5,"c":6,"l":5,"x":50,"y":62},{"p":5,"c":6,"l":5,"x":66,"y":69.5},{"p":5,"c":6,"l":5,"x":50,"y":58},{"p":5,"c":6,"l":5,"x":28,"y":44},{"p":5,"c":6,"l":5,"x":14,"y":32},{"p":5,"c":6,"l":5,"x":9,"y":20},{"p":5,"c":6,"l":5,"x":6,"y":10},{"p":5,"c":6,"l":5,"x":5,"y":0},
{"p":5,"c":7,"l":5,"x":313,"y":220},{"p":5,"c":7,"l":5,"x":290,"y":210.5},{"p":5,"c":7,"l":5,"x":266,"y":201},{"p":5,"c":7,"l":5,"x":282,"y":213},{"p":5,"c":7,"l":5,"x":298,"y":227},{"p":5,"c":7,"l":5,"x":313,"y":240},
{"p":5,"c":8,"l":7,"x":0,"y":35},{"p":5,"c":8,"l":7,"x":5.5,"y":30},{"p":5,"c":8,"l":7,"x":7,"y":22},{"p":5,"c":8,"l":7,"x":4.5,"y":14},{"p":5,"c":8,"l":7,"x":0,"y":10},
{"p":5,"c":9,"l":8,"x":0,"y":32.5},{"p":5,"c":9,"l":8,"x":4,"y":28.5},{"p":5,"c":9,"l":8,"x":5,"y":22},{"p":5,"c":9,"l":8,"x":3,"y":16},{"p":5,"c":9,"l":8,"x":0,"y":13},
{"p":5,"c":10,"l":10,"x":0,"y":29},{"p":5,"c":10,"l":10,"x":2.5,"y":25.5},{"p":5,"c":10,"l":10,"x":2.5,"y":20.5},{"p":5,"c":10,"l":10,"x":0,"y":17},
{"p":5,"c":11,"l":7,"x":313,"y":223},{"p":5,"c":11,"l":7,"x":300,"y":224},{"p":5,"c":11,"l":7,"x":292,"y":229},{"p":5,"c":11,"l":7,"x":300,"y":234},{"p":5,"c":11,"l":7,"x":313,"y":237},
{"p":5,"c":12,"l":9,"x":313,"y":227},{"p":5,"c":12,"l":9,"x":309,"y":230},{"p":5,"c":12,"l":9,"x":313,"y":233},
{"p":5,"c":100,"l":5,"x":75,"y":76.5},{"p":5,"c":100,"l":5,"x":86,"y":79.5},{"p":5,"c":100,"l":5,"x":97,"y":86},{"p":5,"c":100,"l":5,"x":98,"y":89},{"p":5,"c":100,"l":5,"x":87,"y":86.5},{"p":5,"c":100,"l":5,"x":77,"y":80},
{"p":5,"c":101,"l":5,"x":114,"y":102},{"p":5,"c":101,"l":5,"x":126,"y":104.5},{"p":5,"c":101,"l":5,"x":139,"y":111.5},{"p":5,"c":101,"l":5,"x":139,"y":116},{"p":5,"c":101,"l":5,"x":127,"y":113},{"p":5,"c":101,"l":5,"x":116,"y":106.5},
{"p":5,"c":102,"l":5,"x":149,"y":126},{"p":5,"c":102,"l":5,"x":161,"y":128},{"p":5,"c":102,"l":5,"x":173,"y":135.5},{"p":5,"c":102,"l":5,"x":172,"y":140},{"p":5,"c":102,"l":5,"x":160,"y":138},{"p":5,"c":102,"l":5,"x":150,"y":131},
{"p":5,"c":103,"l":5,"x":219,"y":171.5},{"p":5,"c":103,"l":5,"x":223,"y":171.5},{"p":5,"c":103,"l":5,"x":226,"y":174},{"p":5,"c":103,"l":5,"x":222,"y":175},
{"p":5,"c":104,"l":5,"x":242,"y":184},{"p":5,"c":104,"l":5,"x":252,"y":188},{"p":5,"c":104,"l":5,"x":266,"y":198.5},{"p":5,"c":104,"l":5,"x":264,"y":201},{"p":5,"c":104,"l":5,"x":252,"y":194},{"p":5,"c":104,"l":5,"x":243,"y":187.5},

{"p":6,"c":0,"l":0,"x":0,"y":46.5},{"p":6,"c":0,"l":0,"x":60,"y":85.2},{"p":6,"c":0,"l":0,"x":120,"y":123.9},{"p":6,"c":0,"l":0,"x":180,"y":162.6},{"p":6,"c":0,"l":0,"x":240,"y":201.3},{"p":6,"c":0,"l":0,"x":280,"y":227.1},{"p":6,"c":0,"l":0,"x":312,"y":247.7},
{"p":6,"c":1,"l":1,"x":0,"y":40},{"p":6,"c":1,"l":1,"x":30,"y":58.5},{"p":6,"c":1,"l":1,"x":60,"y":77.7},{"p":6,"c":1,"l":1,"x":120,"y":116.4},{"p":6,"c":1,"l":1,"x":180,"y":155.1},{"p":6,"c":1,"l":1,"x":240,"y":193.8},{"p":6,"c":1,"l":1,"x":280,"y":219.6},{"p":6,"c":1,"l":1,"x":312,"y":240.2},
{"p":6,"c":2,"l":0,"x":12.5,"y":0},{"p":6,"c":2,"l":0,"x":13,"y":11},{"p":6,"c":2,"l":0,"x":15.5,"y":22},{"p":6,"c":2,"l":0,"x":24,"y":27},{"p":6,"c":2,"l":0,"x":60,"y":50.2},{"p":6,"c":2,"l":0,"x":120,"y":88.9},{"p":6,"c":2,"l":0,"x":180,"y":127.6},{"p":6,"c":2,"l":0,"x":240,"y":166.3},{"p":6,"c":2,"l":0,"x":280,"y":192.1},{"p":6,"c":2,"l":0,"x":312,"y":212.7},
{"p":6,"c":3,"l":1,"x":8,"y":0},{"p":6,"c":3,"l":1,"x":8.5,"y":10},{"p":6,"c":3,"l":1,"x":11,"y":22},{"p":6,"c":3,"l":1,"x":18,"y":30.6},{"p":6,"c":3,"l":1,"x":60,"y":57.7},{"p":6,"c":3,"l":1,"x":120,"y":96.4},{"p":6,"c":3,"l":1,"x":180,"y":135.1},{"p":6,"c":3,"l":1,"x":240,"y":173.8},{"p":6,"c":3,"l":1,"x":280,"y":199.6},{"p":6,"c":3,"l":1,"x":312,"y":220.2},
{"p":6,"c":4,"l":4,"x":0,"y":38},{"p":6,"c":4,"l":4,"x":10,"y":41},{"p":6,"c":4,"l":4,"x":20,"y":44},{"p":6,"c":4,"l":4,"x":25,"y":42},{"p":6,"c":4,"l":4,"x":20,"y":38},{"p":6,"c":4,"l":4,"x":12,"y":35},{"p":6,"c":4,"l":4,"x":7,"y":29},{"p":6,"c":4,"l":4,"x":6,"y":20},{"p":6,"c":4,"l":4,"x":5,"y":10},{"p":6,"c":4,"l":4,"x":4,"y":0},
{"p":6,"c":5,"l":6,"x":0,"y":36},{"p":6,"c":5,"l":6,"x":6,"y":33},{"p":6,"c":5,"l":6,"x":9,"y":27},{"p":6,"c":5,"l":6,"x":7,"y":20},{"p":6,"c":5,"l":6,"x":0,"y":16},
{"p":6,"c":6,"l":8,"x":0,"y":33.5},{"p":6,"c":6,"l":8,"x":4,"y":31},{"p":6,"c":6,"l":8,"x":6,"y":27},{"p":6,"c":6,"l":8,"x":4,"y":21},{"p":6,"c":6,"l":8,"x":0,"y":19},
{"p":6,"c":7,"l":9,"x":0,"y":31.5},{"p":6,"c":7,"l":9,"x":3,"y":28.5},{"p":6,"c":7,"l":9,"x":3,"y":24},{"p":6,"c":7,"l":9,"x":0,"y":21.5},
{"p":6,"c":8,"l":10,"x":0,"y":29.5},{"p":6,"c":8,"l":10,"x":1.8,"y":27},{"p":6,"c":8,"l":10,"x":0,"y":24},
{"p":6,"c":9,"l":4,"x":313,"y":219},{"p":6,"c":9,"l":4,"x":295,"y":213},{"p":6,"c":9,"l":4,"x":280,"y":207},{"p":6,"c":9,"l":4,"x":272,"y":205},{"p":6,"c":9,"l":4,"x":282,"y":211},{"p":6,"c":9,"l":4,"x":298,"y":222},{"p":6,"c":9,"l":4,"x":313,"y":234},
{"p":6,"c":10,"l":6,"x":313,"y":226},{"p":6,"c":10,"l":6,"x":307,"y":229.5},{"p":6,"c":10,"l":6,"x":313,"y":232.5},
{"p":6,"c":100,"l":4,"x":115.5,"y":102.3},{"p":6,"c":100,"l":4,"x":117.5,"y":102.3},{"p":6,"c":100,"l":4,"x":117.5,"y":103.8},{"p":6,"c":100,"l":4,"x":115.5,"y":103.8},
{"p":6,"c":101,"l":4,"x":39,"y":51},{"p":6,"c":101,"l":4,"x":46,"y":53},{"p":6,"c":101,"l":4,"x":54,"y":58},{"p":6,"c":101,"l":4,"x":52,"y":60.5},{"p":6,"c":101,"l":4,"x":44,"y":58},{"p":6,"c":101,"l":4,"x":40,"y":55},

{"p":7,"c":0,"l":0,"x":0,"y":47},{"p":7,"c":0,"l":0,"x":60,"y":85.3},{"p":7,"c":0,"l":0,"x":120,"y":124.4},{"p":7,"c":0,"l":0,"x":180,"y":163.6},{"p":7,"c":0,"l":0,"x":240,"y":202.7},{"p":7,"c":0,"l":0,"x":290,"y":234.9},{"p":7,"c":0,"l":0,"x":300,"y":241.4},{"p":7,"c":0,"l":0,"x":306,"y":245},{"p":7,"c":0,"l":0,"x":312,"y":246.5},
{"p":7,"c":1,"l":1,"x":0,"y":40},{"p":7,"c":1,"l":1,"x":30,"y":56.5},{"p":7,"c":1,"l":1,"x":60,"y":75.8},{"p":7,"c":1,"l":1,"x":120,"y":114.9},{"p":7,"c":1,"l":1,"x":180,"y":154},{"p":7,"c":1,"l":1,"x":240,"y":193.2},{"p":7,"c":1,"l":1,"x":290,"y":225.5},{"p":7,"c":1,"l":1,"x":312,"y":238.5},
{"p":7,"c":2,"l":0,"x":10,"y":0},{"p":7,"c":2,"l":0,"x":11.5,"y":8},{"p":7,"c":2,"l":0,"x":15,"y":17},{"p":7,"c":2,"l":0,"x":20,"y":23.2},{"p":7,"c":2,"l":0,"x":60,"y":49.3},{"p":7,"c":2,"l":0,"x":120,"y":88.4},{"p":7,"c":2,"l":0,"x":180,"y":127.6},{"p":7,"c":2,"l":0,"x":240,"y":166.7},{"p":7,"c":2,"l":0,"x":290,"y":199.3},{"p":7,"c":2,"l":0,"x":312,"y":213},
{"p":7,"c":3,"l":1,"x":5,"y":0},{"p":7,"c":3,"l":1,"x":6,"y":8},{"p":7,"c":3,"l":1,"x":9,"y":16},{"p":7,"c":3,"l":1,"x":14,"y":26},{"p":7,"c":3,"l":1,"x":20,"y":32.7},{"p":7,"c":3,"l":1,"x":60,"y":58.8},{"p":7,"c":3,"l":1,"x":120,"y":97.9},{"p":7,"c":3,"l":1,"x":180,"y":137.1},{"p":7,"c":3,"l":1,"x":240,"y":176.2},{"p":7,"c":3,"l":1,"x":290,"y":208.8},{"p":7,"c":3,"l":1,"x":312,"y":222},
{"p":7,"c":4,"l":4,"x":0,"y":35},{"p":7,"c":4,"l":4,"x":20,"y":44},{"p":7,"c":4,"l":4,"x":45,"y":60},{"p":7,"c":4,"l":4,"x":69,"y":68.5},{"p":7,"c":4,"l":4,"x":45,"y":52},{"p":7,"c":4,"l":4,"x":25,"y":38},{"p":7,"c":4,"l":4,"x":12,"y":28},{"p":7,"c":4,"l":4,"x":7,"y":18},{"p":7,"c":4,"l":4,"x":4,"y":10},{"p":7,"c":4,"l":4,"x":0,"y":7},
{"p":7,"c":5,"l":6,"x":0,"y":33.5},{"p":7,"c":5,"l":6,"x":8,"y":32},{"p":7,"c":5,"l":6,"x":12,"y":25},{"p":7,"c":5,"l":6,"x":9,"y":16},{"p":7,"c":5,"l":6,"x":0,"y":12},
{"p":7,"c":6,"l":8,"x":0,"y":31.5},{"p":7,"c":6,"l":8,"x":6,"y":29},{"p":7,"c":6,"l":8,"x":8,"y":24},{"p":7,"c":6,"l":8,"x":6,"y":18},{"p":7,"c":6,"l":8,"x":0,"y":15.5},
{"p":7,"c":7,"l":9,"x":0,"y":29.5},{"p":7,"c":7,"l":9,"x":4,"y":27.5},{"p":7,"c":7,"l":9,"x":5,"y":24},{"p":7,"c":7,"l":9,"x":3,"y":20},{"p":7,"c":7,"l":9,"x":0,"y":18.5},
{"p":7,"c":8,"l":10,"x":0,"y":27.5},{"p":7,"c":8,"l":10,"x":2,"y":25},{"p":7,"c":8,"l":10,"x":0,"y":21},
{"p":7,"c":9,"l":4,"x":313,"y":221},{"p":7,"c":9,"l":4,"x":295,"y":213.5},{"p":7,"c":9,"l":4,"x":282,"y":207.5},{"p":7,"c":9,"l":4,"x":269,"y":203.3},{"p":7,"c":9,"l":4,"x":282,"y":210},{"p":7,"c":9,"l":4,"x":297,"y":221},{"p":7,"c":9,"l":4,"x":313,"y":233},
{"p":7,"c":10,"l":6,"x":313,"y":226},{"p":7,"c":10,"l":6,"x":308,"y":229.5},{"p":7,"c":10,"l":6,"x":313,"y":232.5}
]},
"columns": 4,
"spacing": 0,
"concat": [
 {"width":312,"height":312,"transform":[{"filter":"datum.p == 0"}],
  "encoding":{"x":{"field":"x","type":"quantitative","scale":{"domain":[0,312],"nice":false,"zero":false},"axis":null},"y":{"field":"y","type":"quantitative","scale":{"domain":[0,312],"nice":false,"zero":false},"axis":null}},
  "layer":[
   {"transform":[{"filter":"datum.c >= 100"}],"mark":{"type":"line","interpolate":"cardinal-closed","strokeWidth":1.8,"clip":true},"encoding":{"color":{"field":"l","type":"ordinal","legend":null,"scale":{"domain":[0,1,2,3,4,5,6,7,8,9,10],"range":["#00007f","#0030ff","#0090ff","#00ccff","#28f0c8","#7dff7a","#c8ff36","#ffd500","#ff7000","#ff2000","#800000"]}},"detail":{"field":"c","type":"nominal"},"order":{"value":null}}},
   {"transform":[{"filter":"datum.l == 11"}],"mark":{"type":"line","color":"black","strokeWidth":1.8},"encoding":{"detail":{"field":"c","type":"nominal"},"order":{"value":null}}},
   {"transform":[{"filter":"datum.r == 0"}],"mark":{"type":"text","align":"left","baseline":"alphabetic","fontSize":20.5,"font":"DejaVu Sans","color":"black"},"encoding":{"text":{"field":"t","type":"nominal"}}},
   {"transform":[{"filter":"datum.r == 1"}],"mark":{"type":"text","align":"center","baseline":"alphabetic","fontSize":18.7,"font":"DejaVu Sans","color":"black"},"encoding":{"text":{"field":"t","type":"nominal"}}},
   {"transform":[{"filter":"datum.r == 2"}],"mark":{"type":"text","align":"center","baseline":"alphabetic","angle":270,"fontSize":18.7,"font":"DejaVu Sans","color":"black"},"encoding":{"text":{"field":"t","type":"nominal"}}}
  ]},
 {"width":312,"height":312,"transform":[{"filter":"datum.p == 1"}],
  "encoding":{"x":{"field":"x","type":"quantitative","scale":{"domain":[0,312],"nice":false,"zero":false},"axis":null},"y":{"field":"y","type":"quantitative","scale":{"domain":[0,312],"nice":false,"zero":false},"axis":null}},
  "layer":[
   {"transform":[{"filter":"datum.c >= 100"}],"mark":{"type":"line","interpolate":"cardinal-closed","strokeWidth":1.8,"clip":true},"encoding":{"color":{"field":"l","type":"ordinal","legend":null,"scale":{"domain":[0,1,2,3,4,5,6,7,8,9,10],"range":["#00007f","#0030ff","#0090ff","#00ccff","#28f0c8","#7dff7a","#c8ff36","#ffd500","#ff7000","#ff2000","#800000"]}},"detail":{"field":"c","type":"nominal"},"order":{"value":null}}},
   {"transform":[{"filter":"datum.r == 0"}],"mark":{"type":"text","align":"left","baseline":"alphabetic","fontSize":20.5,"font":"DejaVu Sans","color":"black"},"encoding":{"text":{"field":"t","type":"nominal"}}}
  ]},
 {"width":312,"height":312,"transform":[{"filter":"datum.p == 2"}],
  "encoding":{"x":{"field":"x","type":"quantitative","scale":{"domain":[0,312],"nice":false,"zero":false},"axis":null},"y":{"field":"y","type":"quantitative","scale":{"domain":[0,312],"nice":false,"zero":false},"axis":null}},
  "layer":[
   {"transform":[{"filter":"datum.c >= 100"}],"mark":{"type":"line","interpolate":"cardinal-closed","strokeWidth":1.8,"clip":true},"encoding":{"color":{"field":"l","type":"ordinal","legend":null,"scale":{"domain":[0,1,2,3,4,5,6,7,8,9,10],"range":["#00007f","#0030ff","#0090ff","#00ccff","#28f0c8","#7dff7a","#c8ff36","#ffd500","#ff7000","#ff2000","#800000"]}},"detail":{"field":"c","type":"nominal"},"order":{"value":null}}},
   {"transform":[{"filter":"datum.r == 0"}],"mark":{"type":"text","align":"left","baseline":"alphabetic","fontSize":20.5,"font":"DejaVu Sans","color":"black"},"encoding":{"text":{"field":"t","type":"nominal"}}}
  ]},
 {"width":312,"height":312,"transform":[{"filter":"datum.p == 3"}],
  "encoding":{"x":{"field":"x","type":"quantitative","scale":{"domain":[0,312],"nice":false,"zero":false},"axis":null},"y":{"field":"y","type":"quantitative","scale":{"domain":[0,312],"nice":false,"zero":false},"axis":null}},
  "layer":[
   {"transform":[{"filter":"datum.c < 100"}],"mark":{"type":"line","interpolate":"cardinal","strokeWidth":1.8,"clip":true},"encoding":{"color":{"field":"l","type":"ordinal","legend":null,"scale":{"domain":[0,1,2,3,4,5,6,7,8,9,10],"range":["#00007f","#0030ff","#0090ff","#00ccff","#28f0c8","#7dff7a","#c8ff36","#ffd500","#ff7000","#ff2000","#800000"]}},"detail":{"field":"c","type":"nominal"},"order":{"value":null}}},
   {"transform":[{"filter":"datum.c >= 100"}],"mark":{"type":"line","interpolate":"cardinal-closed","strokeWidth":1.8,"clip":true},"encoding":{"color":{"field":"l","type":"ordinal","legend":null,"scale":{"domain":[0,1,2,3,4,5,6,7,8,9,10],"range":["#00007f","#0030ff","#0090ff","#00ccff","#28f0c8","#7dff7a","#c8ff36","#ffd500","#ff7000","#ff2000","#800000"]}},"detail":{"field":"c","type":"nominal"},"order":{"value":null}}},
   {"transform":[{"filter":"datum.r == 0"}],"mark":{"type":"text","align":"left","baseline":"alphabetic","fontSize":20.5,"font":"DejaVu Sans","color":"black"},"encoding":{"text":{"field":"t","type":"nominal"}}}
  ]},
 {"width":312,"height":312,"transform":[{"filter":"datum.p == 4"}],
  "encoding":{"x":{"field":"x","type":"quantitative","scale":{"domain":[0,312],"nice":false,"zero":false},"axis":null},"y":{"field":"y","type":"quantitative","scale":{"domain":[0,312],"nice":false,"zero":false},"axis":null}},
  "layer":[
   {"transform":[{"filter":"datum.c < 100"}],"mark":{"type":"line","interpolate":"cardinal","strokeWidth":1.8,"clip":true},"encoding":{"color":{"field":"l","type":"ordinal","legend":null,"scale":{"domain":[0,1,2,3,4,5,6,7,8,9,10],"range":["#00007f","#0030ff","#0090ff","#00ccff","#28f0c8","#7dff7a","#c8ff36","#ffd500","#ff7000","#ff2000","#800000"]}},"detail":{"field":"c","type":"nominal"},"order":{"value":null}}},
   {"transform":[{"filter":"datum.c >= 100"}],"mark":{"type":"line","interpolate":"cardinal-closed","strokeWidth":1.8,"clip":true},"encoding":{"color":{"field":"l","type":"ordinal","legend":null,"scale":{"domain":[0,1,2,3,4,5,6,7,8,9,10],"range":["#00007f","#0030ff","#0090ff","#00ccff","#28f0c8","#7dff7a","#c8ff36","#ffd500","#ff7000","#ff2000","#800000"]}},"detail":{"field":"c","type":"nominal"},"order":{"value":null}}},
   {"transform":[{"filter":"datum.r == 0"}],"mark":{"type":"text","align":"left","baseline":"alphabetic","fontSize":20.5,"font":"DejaVu Sans","color":"black"},"encoding":{"text":{"field":"t","type":"nominal"}}}
  ]},
 {"width":312,"height":312,"transform":[{"filter":"datum.p == 5"}],
  "encoding":{"x":{"field":"x","type":"quantitative","scale":{"domain":[0,312],"nice":false,"zero":false},"axis":null},"y":{"field":"y","type":"quantitative","scale":{"domain":[0,312],"nice":false,"zero":false},"axis":null}},
  "layer":[
   {"transform":[{"filter":"datum.c < 100"}],"mark":{"type":"line","interpolate":"cardinal","strokeWidth":1.8,"clip":true},"encoding":{"color":{"field":"l","type":"ordinal","legend":null,"scale":{"domain":[0,1,2,3,4,5,6,7,8,9,10],"range":["#00007f","#0030ff","#0090ff","#00ccff","#28f0c8","#7dff7a","#c8ff36","#ffd500","#ff7000","#ff2000","#800000"]}},"detail":{"field":"c","type":"nominal"},"order":{"value":null}}},
   {"transform":[{"filter":"datum.c >= 100"}],"mark":{"type":"line","interpolate":"cardinal-closed","strokeWidth":1.8,"clip":true},"encoding":{"color":{"field":"l","type":"ordinal","legend":null,"scale":{"domain":[0,1,2,3,4,5,6,7,8,9,10],"range":["#00007f","#0030ff","#0090ff","#00ccff","#28f0c8","#7dff7a","#c8ff36","#ffd500","#ff7000","#ff2000","#800000"]}},"detail":{"field":"c","type":"nominal"},"order":{"value":null}}},
   {"transform":[{"filter":"datum.r == 0"}],"mark":{"type":"text","align":"left","baseline":"alphabetic","fontSize":20.5,"font":"DejaVu Sans","color":"black"},"encoding":{"text":{"field":"t","type":"nominal"}}}
  ]},
 {"width":312,"height":312,"transform":[{"filter":"datum.p == 6"}],
  "encoding":{"x":{"field":"x","type":"quantitative","scale":{"domain":[0,312],"nice":false,"zero":false},"axis":null},"y":{"field":"y","type":"quantitative","scale":{"domain":[0,312],"nice":false,"zero":false},"axis":null}},
  "layer":[
   {"transform":[{"filter":"datum.c < 100"}],"mark":{"type":"line","interpolate":"cardinal","strokeWidth":1.8,"clip":true},"encoding":{"color":{"field":"l","type":"ordinal","legend":null,"scale":{"domain":[0,1,2,3,4,5,6,7,8,9,10],"range":["#00007f","#0030ff","#0090ff","#00ccff","#28f0c8","#7dff7a","#c8ff36","#ffd500","#ff7000","#ff2000","#800000"]}},"detail":{"field":"c","type":"nominal"},"order":{"value":null}}},
   {"transform":[{"filter":"datum.c >= 100"}],"mark":{"type":"line","interpolate":"cardinal-closed","strokeWidth":1.8,"clip":true},"encoding":{"color":{"field":"l","type":"ordinal","legend":null,"scale":{"domain":[0,1,2,3,4,5,6,7,8,9,10],"range":["#00007f","#0030ff","#0090ff","#00ccff","#28f0c8","#7dff7a","#c8ff36","#ffd500","#ff7000","#ff2000","#800000"]}},"detail":{"field":"c","type":"nominal"},"order":{"value":null}}},
   {"transform":[{"filter":"datum.r == 0"}],"mark":{"type":"text","align":"left","baseline":"alphabetic","fontSize":20.5,"font":"DejaVu Sans","color":"black"},"encoding":{"text":{"field":"t","type":"nominal"}}}
  ]},
 {"width":312,"height":312,"transform":[{"filter":"datum.p == 7"}],
  "encoding":{"x":{"field":"x","type":"quantitative","scale":{"domain":[0,312],"nice":false,"zero":false},"axis":null},"y":{"field":"y","type":"quantitative","scale":{"domain":[0,312],"nice":false,"zero":false},"axis":null}},
  "layer":[
   {"transform":[{"filter":"datum.c < 100"}],"mark":{"type":"line","interpolate":"cardinal","strokeWidth":1.8,"clip":true},"encoding":{"color":{"field":"l","type":"ordinal","legend":null,"scale":{"domain":[0,1,2,3,4,5,6,7,8,9,10],"range":["#00007f","#0030ff","#0090ff","#00ccff","#28f0c8","#7dff7a","#c8ff36","#ffd500","#ff7000","#ff2000","#800000"]}},"detail":{"field":"c","type":"nominal"},"order":{"value":null}}},
   {"transform":[{"filter":"datum.r == 0"}],"mark":{"type":"text","align":"left","baseline":"alphabetic","fontSize":20.5,"font":"DejaVu Sans","color":"black"},"encoding":{"text":{"field":"t","type":"nominal"}}}
  ]}
]
}
